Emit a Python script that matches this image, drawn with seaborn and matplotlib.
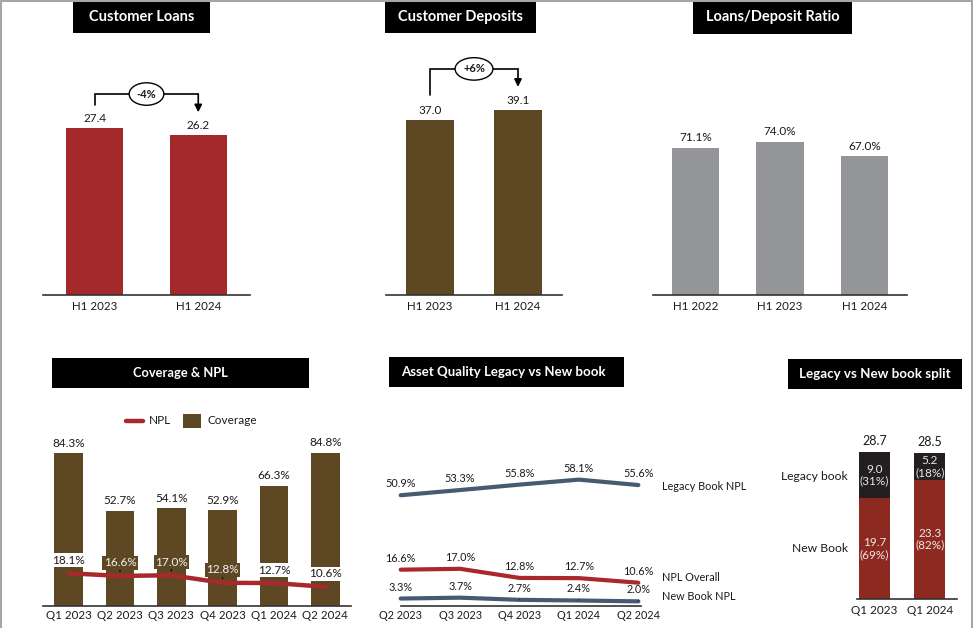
import numpy as np
import pandas as pd
import matplotlib
matplotlib.use("Agg")
import matplotlib.pyplot as plt
from matplotlib.patches import Rectangle
from matplotlib.lines import Line2D
import seaborn as sns

# ---------------- data ----------------
loan_periods = ["H1 2023", "H1 2024"]
loan_values = [27.4, 26.2]
loan_change = "-4%"

deposit_periods = ["H1 2023", "H1 2024"]
deposit_values = [37.0, 39.1]
deposit_change = "+6%"

ldr_periods = ["H1 2022", "H1 2023", "H1 2024"]
ldr_values = [71.1, 74.0, 67.0]

cov_quarters = ["Q1 2023", "Q2 2023", "Q3 2023", "Q4 2023", "Q1 2024", "Q2 2024"]
coverage_values = [84.3, 52.7, 54.1, 52.9, 66.3, 84.8]
npl_values = [18.1, 16.6, 17.0, 12.8, 12.7, 10.6]

aq_quarters = ["Q2 2023", "Q3 2023", "Q4 2023", "Q1 2024", "Q2 2024"]
legacy_npl = [50.9, 53.3, 55.8, 58.1, 55.6]
overall_npl = [16.6, 17.0, 12.8, 12.7, 10.6]
newbook_npl = [3.3, 3.7, 2.7, 2.4, 2.0]

split_quarters = ["Q1 2023", "Q1 2024"]
split_new = [19.7, 23.3]
split_legacy = [9.0, 5.2]
split_new_pct = ["69%", "82%"]
split_legacy_pct = ["31%", "18%"]

# ---------------- style ----------------
sns.set_style("white")
plt.rcParams["font.family"] = ["Lato", "DejaVu Sans"]
plt.rcParams["text.color"] = "#1a1a1a"

RED = "#A3292B"
BROWN = "#5E4824"
GREY = "#939598"
SPLIT_RED = "#8C2A22"
DARK = "#231F20"
SLATE = "#475A72"
NPL_RED = "#A9282C"

W, H = 973, 628
fig = plt.figure(figsize=(W / 100, H / 100), dpi=100)


def rect(x0, y0, x1, y1):
    return [x0 / W, 1 - y1 / H, (x1 - x0) / W, (y1 - y0) / H]


def fx(x):
    return x / W


def fy(y):
    return 1 - y / H


def title_box(x0, y0, x1, y1, text, size, align="center", pad=0):
    fig.add_artist(Rectangle((fx(x0), fy(y1)), (x1 - x0) / W, (y1 - y0) / H,
                             transform=fig.transFigure, fc="black", ec="none"))
    if align == "center":
        fig.text(fx((x0 + x1) / 2), fy((y0 + y1) / 2), text, color="white",
                 fontsize=size, fontweight="bold", ha="center", va="center")
    else:
        fig.text(fx(x0 + pad), fy((y0 + y1) / 2), text, color="white",
                 fontsize=size, fontweight="bold", ha="left", va="center")


def style_axis(ax, pad, size=8.3):
    sns.despine(ax=ax, left=True, top=True, right=True)
    ax.spines["bottom"].set_color("#333333")
    ax.spines["bottom"].set_linewidth(1.2)
    ax.set_yticks([])
    ax.set_xlabel("")
    ax.set_ylabel("")
    ax.tick_params(axis="x", length=0, pad=pad, labelsize=size, colors="#1a1a1a")
    ax.patch.set_alpha(0)


def bar_labels(ax, values, fmt, offset, size=8.5):
    for i, v in enumerate(values):
        ax.annotate(fmt.format(v), xy=(i, v), xytext=(0, offset),
                    textcoords="offset pixels", ha="center", va="center",
                    fontsize=size, annotation_clip=False)


def change_bracket(ax, y_start, y_top, y_tip, label):
    ax.plot([0, 0, 1, 1], [y_start, y_top, y_top, y_top], color="black",
            lw=1.2, clip_on=False, solid_joinstyle="miter")
    ax.annotate("", xy=(1, y_tip), xytext=(1, y_top),
                arrowprops=dict(arrowstyle="-|>", color="black", lw=1.2,
                                mutation_scale=11, shrinkA=0, shrinkB=0),
                annotation_clip=False)
    ax.text(0.5, y_top, label, ha="center", va="center", fontsize=8,
            fontweight="bold",
            bbox=dict(boxstyle="ellipse,pad=0.22", fc="white", ec="black",
                      lw=1.0))


# ---------------- figure border ----------------
for (x0, y0, x1, y1) in [(1, 0, 1, H), (0, 1, W, 1), (971.5, 0, 971.5, H)]:
    fig.add_artist(Line2D([fx(x0), fx(x1)], [fy(y0), fy(y1)],
                          transform=fig.transFigure, color="#A6A6A6", lw=1.5))

# ---------------- Customer Loans ----------------
title_box(73, 1, 210, 33, "Customer Loans", 10.5)
ax1 = fig.add_axes(rect(43, 60, 250, 295))
sns.barplot(x=loan_periods, y=loan_values, color=RED, saturation=1,
            width=0.55, linewidth=0, ax=ax1)
ax1.set_xlim(-0.5, 1.5)
ax1.set_ylim(0, 235 / 6.09)
style_axis(ax1, 4)
bar_labels(ax1, loan_values, "{:.1f}", 9.5)
change_bracket(ax1, 31.2, 33.0, 30.0, loan_change)

# ---------------- Customer Deposits ----------------
title_box(385, 1, 536, 33, "Customer Deposits", 10.5)
ax2 = fig.add_axes(rect(386, 60, 562, 295))
sns.barplot(x=deposit_periods, y=deposit_values, color=BROWN, saturation=1,
            width=0.555, linewidth=0, ax=ax2)
ax2.set_xlim(-0.5, 1.5)
ax2.set_ylim(0, 235 / 4.73)
style_axis(ax2, 4)
bar_labels(ax2, deposit_values, "{:.1f}", 9.5)
change_bracket(ax2, 42.3, 47.8, 44.0, deposit_change)

# ---------------- Loans/Deposit Ratio ----------------
title_box(693, 1, 852, 34, "Loans/Deposit Ratio", 10.5)
ax3 = fig.add_axes(rect(653, 60, 907, 295))
sns.barplot(x=ldr_periods, y=ldr_values, color=GREY, saturation=1,
            width=0.556, linewidth=0, ax=ax3)
ax3.set_xlim(-0.5, 2.5)
ax3.set_ylim(0, 235 / 2.07)
style_axis(ax3, 4)
bar_labels(ax3, ldr_values, "{:.1f}%", 10)

# ---------------- Coverage & NPL ----------------
title_box(52, 358, 309, 388, "Coverage & NPL", 9.3)
ax4 = fig.add_axes(rect(43, 440, 351, 606))
sns.barplot(x=cov_quarters, y=coverage_values, color=BROWN, saturation=1,
            width=0.555, linewidth=0, ax=ax4)
sns.lineplot(x=np.arange(len(npl_values)), y=npl_values, color=NPL_RED,
             lw=3.2, ax=ax4)
ax4.set_xlim(-0.5, 5.5)
ax4.set_ylim(0, 166 / 1.81)
style_axis(ax4, 3)
bar_labels(ax4, coverage_values, "{:.1f}%", 10)
npl_label_bg = ["white", BROWN, BROWN, BROWN, "white", "white"]
for i, (v, bg) in enumerate(zip(npl_values, npl_label_bg)):
    dark_bg = bg != "white"
    ax4.annotate(f"{v:.1f}%", xy=(i, v), xytext=(0, 13),
                 textcoords="offset pixels", ha="center", va="center",
                 fontsize=8.5, color="#F2F2F2" if dark_bg else "#1a1a1a",
                 bbox=dict(boxstyle="square,pad=0.12", fc=bg, ec="none"),
                 arrowprops=(dict(arrowstyle="-", color="black", lw=0.8,
                                  shrinkA=0, shrinkB=3) if dark_bg else None),
                 annotation_clip=False)

# legend
fig.add_artist(Line2D([fx(126), fx(143)], [fy(421), fy(421)],
                      transform=fig.transFigure, color=NPL_RED, lw=3.2))
fig.text(fx(149), fy(421), "NPL", fontsize=8.5, ha="left", va="center")
fig.add_artist(Rectangle((fx(183), fy(428)), 18 / W, 14 / H,
                         transform=fig.transFigure, fc=BROWN, ec="none"))
fig.text(fx(207), fy(421), "Coverage", fontsize=8.5, ha="left", va="center")

# ---------------- Asset Quality Legacy vs New book ----------------
title_box(389, 357, 624, 387, "Asset Quality Legacy vs New book", 9.5,
          align="left", pad=12)
ax5 = fig.add_axes(rect(400.7, 420, 640.7, 605.7))
aq = pd.DataFrame({
    "quarter": np.tile(np.arange(len(aq_quarters)), 3),
    "npl": legacy_npl + overall_npl + newbook_npl,
    "series": (["Legacy Book NPL"] * len(aq_quarters)
               + ["NPL Overall"] * len(aq_quarters)
               + ["New Book NPL"] * len(aq_quarters)),
})
aq_palette = {"Legacy Book NPL": SLATE, "NPL Overall": NPL_RED,
              "New Book NPL": SLATE}
sns.lineplot(data=aq, x="quarter", y="npl", hue="series", palette=aq_palette,
             lw=3.0, legend=False, ax=ax5)
for ln in ax5.lines:
    ln.set_clip_on(False)
ax5.set_xlim(0, 4.04)
ax5.set_ylim(0, 185.7 / 2.17)
ax5.set_xticks(range(len(aq_quarters)))
ax5.set_xticklabels(aq_quarters)
style_axis(ax5, 3, size=7.8)
for series, lead in [(legacy_npl, []), (overall_npl, []),
                     (newbook_npl, [2, 3, 4])]:
    for i, v in enumerate(series):
        ax5.annotate(f"{v:.1f}%", xy=(i, v), xytext=(0, 11.5),
                     textcoords="offset pixels", ha="center", va="center",
                     fontsize=7.8,
                     arrowprops=(dict(arrowstyle="-", color="#333333", lw=0.7,
                                      shrinkA=1, shrinkB=1)
                                 if i in lead else None),
                     annotation_clip=False)
for name, y in [("Legacy Book NPL", 486.7), ("NPL Overall", 577.7),
                ("New Book NPL", 596.7)]:
    fig.text(fx(662.5), fy(y), name, fontsize=7.8, ha="left", va="center")

# ---------------- Legacy vs New book split ----------------
title_box(788, 359, 962, 389, "Legacy vs New book split", 9.6)
ax6 = fig.add_axes(rect(856.7, 440, 956.7, 599))
split_total = [n + l for n, l in zip(split_new, split_legacy)]
sns.barplot(x=split_quarters, y=split_total, color=DARK, saturation=1,
            width=0.558, linewidth=0, ax=ax6)
sns.barplot(x=split_quarters, y=split_new, color=SPLIT_RED, saturation=1,
            width=0.558, linewidth=0, ax=ax6)
ax6.set_xlim(-0.327, 1.491)
ax6.set_ylim(0, 159 / 5.11)
style_axis(ax6, 4, size=8.5)
bar_labels(ax6, split_total, "{:.1f}", 11, size=9)
for i in range(len(split_quarters)):
    ax6.text(i, split_new[i] / 2, f"{split_new[i]:.1f}\n({split_new_pct[i]})",
             ha="center", va="center", color="#F2E6E6", fontsize=8.5,
             linespacing=1.05)
    ax6.text(i, split_new[i] + split_legacy[i] / 2,
             f"{split_legacy[i]:.1f}\n({split_legacy_pct[i]})",
             ha="center", va="center", color="#E6E6E6", fontsize=8.5,
             linespacing=1.05)
fig.text(fx(847.7), fy(476), "Legacy book", fontsize=8.7, ha="right", va="center")
fig.text(fx(847.7), fy(549), "New Book", fontsize=8.7, ha="right", va="center")

fig.savefig("out.png", dpi=100)
